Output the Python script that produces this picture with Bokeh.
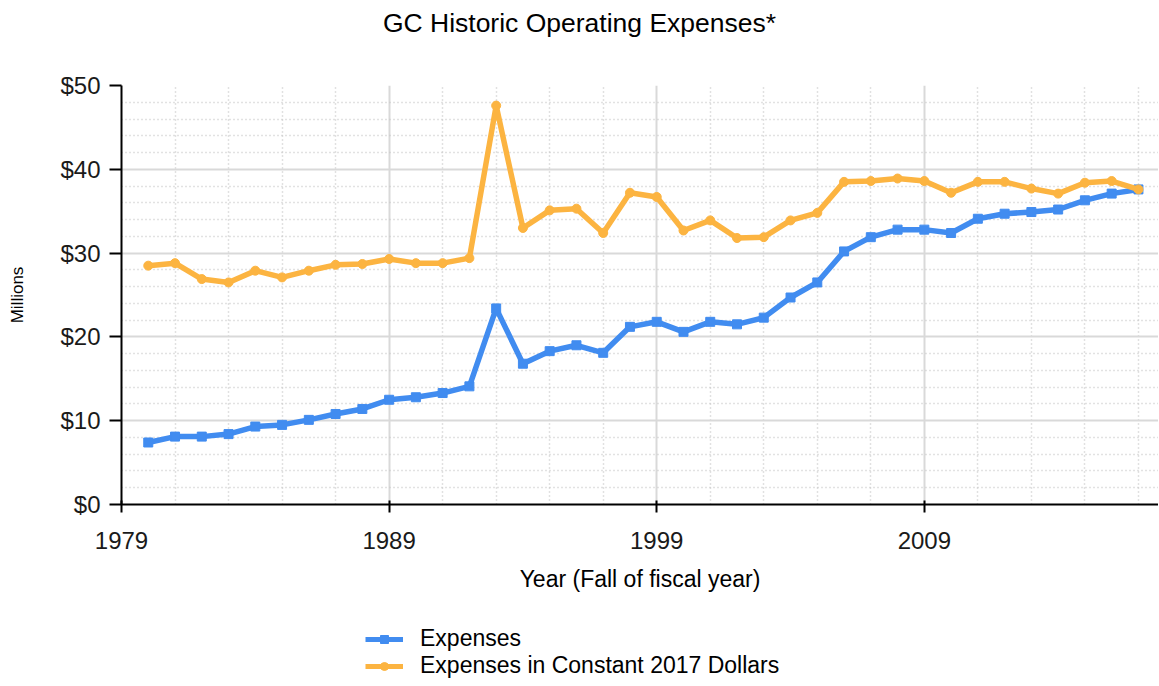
from bokeh.plotting import figure
from bokeh.layouts import column
from bokeh.models import FixedTicker, Legend, LegendItem, Label, Range1d, PrintfTickFormatter
from bokeh.embed import file_html
from bokeh.resources import INLINE

years = list(range(1980, 2018))
expenses = [7.4, 8.1, 8.1, 8.4, 9.3, 9.5, 10.1, 10.8, 11.4, 12.5,
            12.8, 13.3, 14.1, 23.4, 16.8, 18.3, 19.0, 18.1, 21.2, 21.8,
            20.6, 21.8, 21.5, 22.3, 24.7, 26.5, 30.2, 31.9, 32.8, 32.8,
            32.4, 34.1, 34.7, 34.9, 35.2, 36.3, 37.1, 37.6]
constant_2017 = [28.5, 28.8, 26.9, 26.5, 27.9, 27.1, 27.9, 28.6, 28.7, 29.3,
                 28.8, 28.8, 29.4, 47.6, 33.0, 35.1, 35.3, 32.4, 37.2, 36.7,
                 32.7, 33.9, 31.8, 31.9, 33.9, 34.8, 38.5, 38.6, 38.9, 38.6,
                 37.2, 38.5, 38.5, 37.7, 37.1, 38.4, 38.6, 37.6]
x_major = [1979, 1989, 1999, 2009]
y_major = [0, 10, 20, 30, 40, 50]
series_names = ["Expenses", "Expenses in Constant 2017 Dollars"]
colors = ["#418CF0", "#FCB441"]
markers = ["square", "circle"]
chart_title = "GC Historic Operating Expenses*"

FONT = "Liberation Sans"
W = 1158


def bare_figure(height):
    f = figure(width=W, height=height, output_backend="svg", toolbar_location=None,
               x_range=Range1d(0, 1), y_range=Range1d(0, 1),
               min_border=0, min_border_left=0, min_border_right=0,
               min_border_top=0, min_border_bottom=0)
    f.frame_align = False
    f.axis.visible = False
    f.grid.visible = False
    f.outline_line_color = None
    f.background_fill_color = "white"
    f.border_fill_color = "white"
    return f


# ---- title strip ----
top = bare_figure(60)
top.add_layout(Label(x=579, y=38, x_units="screen", y_units="screen", text=chart_title,
                     text_align="center", text_baseline="middle",
                     text_font=FONT, text_font_size="26.5px", text_color="#000000"))

# ---- main chart ----
p = figure(width=W, height=544, output_backend="svg", toolbar_location=None,
           x_range=Range1d(1979, 2017.75), y_range=Range1d(0, 50),
           min_border_left=121, min_border_top=25, min_border_right=0,
           min_border_bottom=100)
p.frame_align = False
p.outline_line_color = None
p.background_fill_color = "white"
p.border_fill_color = "white"

x_minor = [y for y in range(1981, 2018, 2) if y not in x_major]
y_minor = [v for v in range(2, 50, 2) if v % 10 != 0]
p.xaxis.ticker = FixedTicker(ticks=x_major, minor_ticks=x_minor)
p.yaxis.ticker = FixedTicker(ticks=y_major, minor_ticks=y_minor)
p.yaxis.formatter = PrintfTickFormatter(format="$%d")

for ax in (p.xaxis[0], p.yaxis[0]):
    ax.axis_line_color = "#000000"
    ax.axis_line_width = 2
    ax.major_tick_line_color = "#000000"
    ax.major_tick_line_width = 2
    ax.minor_tick_line_color = None
    ax.major_label_text_font = FONT
    ax.major_label_text_font_size = "24px"
    ax.major_label_text_color = "#1a1a1a"
    ax.axis_label_text_font = FONT
    ax.axis_label_text_font_style = "normal"
    ax.axis_label_text_color = "#000000"

p.xaxis.major_tick_in = 4
p.xaxis.major_tick_out = 8
p.xaxis.major_label_standoff = 19
p.xaxis.axis_label = "Year (Fall of fiscal year)"
p.xaxis.axis_label_text_font_size = "23px"
p.xaxis.axis_label_standoff = 14

p.yaxis.major_tick_in = 0
p.yaxis.major_tick_out = 12
p.yaxis.major_label_standoff = 9
p.yaxis.axis_label = "Millions"
p.yaxis.axis_label_text_font_size = "17px"
p.yaxis.axis_label_standoff = 30

for g in (p.xgrid[0], p.ygrid[0]):
    g.grid_line_color = "#d9d9d9"
    g.grid_line_width = 2
    g.minor_grid_line_color = "#c4c4c4"
    g.minor_grid_line_width = 1.5
    g.minor_grid_line_dash = "1 3"

series = [expenses, constant_2017]
for vals, col, mk in zip(series, colors, markers):
    p.line(years, vals, line_color=col, line_width=5.5)
    p.scatter(years, vals, marker=mk, size=9, fill_color=col, line_color=col)

# ---- legend strip (same series, drawn outside its view; only the legend shows) ----
leg = bare_figure(80)
items = []
for name, vals, col, mk in zip(series_names, series, colors, markers):
    lr = leg.line(years, vals, line_color=col, line_width=5)
    sr = leg.scatter(years, vals, marker=mk, size=6, fill_color=col, line_color=col)
    items.append(LegendItem(label=name, renderers=[lr, sr]))

legend = Legend(items=items, location=(365, 5), orientation="vertical",
                border_line_color=None, background_fill_alpha=0,
                glyph_width=38, glyph_height=20, label_standoff=17, spacing=0,
                padding=0, margin=0, label_height=22,
                label_text_font=FONT, label_text_font_size="23px", label_text_color="#000000")
leg.add_layout(legend, "center")

layout = column(top, p, leg, spacing=0)
open("out.html", "w").write(file_html(layout, INLINE))
